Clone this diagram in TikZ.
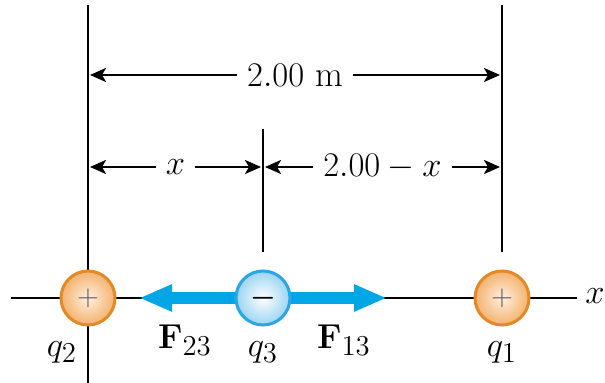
\documentclass[tikz,border=0pt]{standalone}
\usepackage{amsmath}
\usepackage{xcolor}
\usepackage{tikz}
\usetikzlibrary{arrows.meta, positioning, shapes.geometric, calc}

\definecolor{ballorange}{HTML}{E38A26}
\definecolor{ballpeach}{HTML}{F4B26E}
\definecolor{ballblue}{HTML}{2AA6E6}
\definecolor{ballsky}{HTML}{9AD4F3}
\definecolor{forceblue}{HTML}{00A6E6}

\begin{document}
\begin{tikzpicture}[
          x=0.5pt, y=-0.5pt,
          guide/.style={line width=1.3pt},
          dimline/.style={line width=1.2pt, {Stealth[length=8pt, width=7pt, inset=2pt]}-{Stealth[length=8pt, width=7pt, inset=2pt]}, shorten <=1pt, shorten >=1pt},
          dimlabel/.style={fill=white, inner sep=5pt, font=\fontsize{18}{20}\selectfont},
          poscharge/.style={circle, minimum size=27pt, inner sep=0pt, draw=ballorange, line width=1.5pt, inner color=orange!12, outer color=ballpeach, text=black!65, font=\fontsize{14}{14}\selectfont},
          negcharge/.style={circle, minimum size=27pt, inner sep=0pt, draw=ballblue, line width=1.5pt, inner color=white, outer color=ballsky, font=\fontsize{14}{14}\bfseries},
          force/.style={forceblue, line width=6pt, -{Triangle[length=16.5pt, width=12.5pt]}},
          tag/.style={inner sep=1pt, font=\fontsize{19}{20}\selectfont}
        ]
          \useasboundingbox (0,0) rectangle (605,383);
          % guide lines and axis
          \coordinate (c2) at (88,298);
          \coordinate (c3) at (263,298);
          \coordinate (c1) at (502,298);
          \draw[guide] (88,5) coordinate (top2) -- (88,383) coordinate (bot2);
          \draw[guide] (263,129) coordinate (top3) -- (263,252) coordinate (bot3);
          \draw[guide] (502,5) coordinate (top1) -- (502,252) coordinate (bot1);
          \draw[guide] (11,298) coordinate (axl) -- (577,298) coordinate (axr);
          \node[tag, inner sep=0pt, anchor=east] (xaxis) at (605,296) {$x$};
          % distances
          \draw[dimline] (88,75) coordinate (d2) -- (502,75) coordinate (d1)
            node[dimlabel, pos=0.5] (dtot) {$2.00$ m};
          \draw[dimline] (88,167) coordinate (e2) -- (263,167) coordinate (e3)
            node[dimlabel, pos=0.5] (dx) {$x$};
          \draw[dimline] (263,167) -- (502,167) coordinate (e1)
            node[dimlabel, pos=0.5] (drest) {$2.00 - x$};
          % forces on q3
          \draw[force] (c3) -- (139,298) coordinate (f23tip);
          \draw[force] (c3) -- (387,298) coordinate (f13tip);
          % charges
          \node[poscharge] (q2) at (c2) {$+$};
          \node[negcharge] (q3) at (c3) {$\boldsymbol{-}$};
          \node[poscharge] (q1) at (c1) {$+$};
          \node[tag] (l2) at (62,352) {$q_2$};
          \node[tag] (l3) at (263,352) {$q_3$};
          \node[tag] (l1) at (502,352) {$q_1$};
          \node[tag] (f23) at (185,340) {$\mathbf{F}_{23}$};
          \node[tag] (f13) at (344,340) {$\mathbf{F}_{13}$};
        \end{tikzpicture}
\end{document}
